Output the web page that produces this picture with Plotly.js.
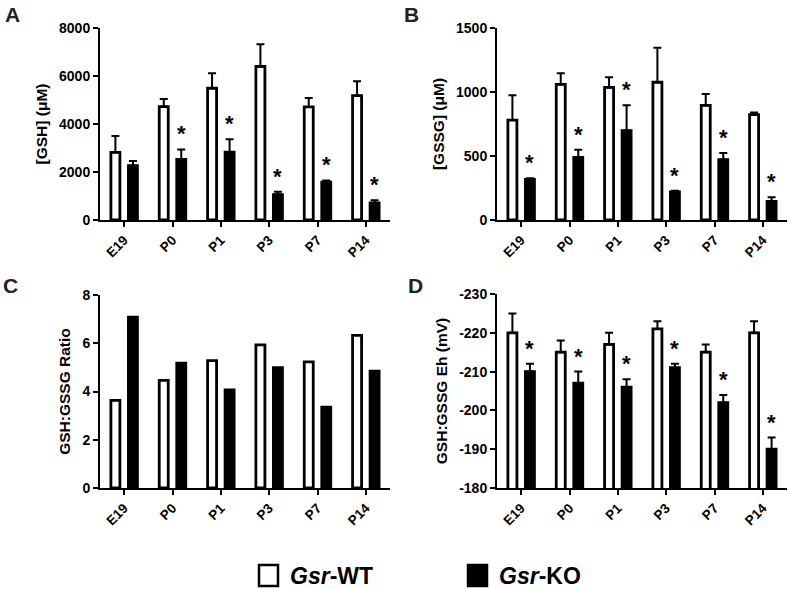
<!DOCTYPE html>
<html>
<head>
<meta charset="utf-8">
<script src="https://cdn.plot.ly/plotly-3.0.1.min.js"></script>
<style>html,body{margin:0;padding:0;background:#fff;}#chart{width:789px;height:589px;}</style>
</head>
<body>
<div id="chart"></div>
<script>
// ---- data ----
const categories = ['E19', 'P0', 'P1', 'P3', 'P7', 'P14'];

const gshWT = [2820, 4720, 5490, 6400, 4710, 5180];
const gshWTerr = [680, 320, 620, 920, 370, 600];
const gshKO = [2260, 2530, 2830, 1060, 1580, 710];
const gshKOerr = [200, 410, 530, 120, 70, 110];
const gshStar = [false, true, true, true, true, true];

const gssgWT = [781, 1060, 1036, 1076, 896, 823];
const gssgWTerr = [193, 86, 79, 270, 88, 16];
const gssgKO = [318, 490, 698, 219, 471, 146];
const gssgKOerr = [8, 59, 198, 10, 52, 31];
const gssgStar = [true, true, true, true, true, true];

const ratioWT = [3.63, 4.46, 5.28, 5.93, 5.23, 6.33];
const ratioKO = [7.08, 5.17, 4.07, 4.99, 3.35, 4.84];

const ehWT = [-220, -215, -217, -221, -215, -220];
const ehWTerr = [5, 3, 3, 2, 2, 3];
const ehKO = [-210, -207, -206, -211, -202, -190];
const ehKOerr = [2, 3, 2, 1, 2, 3];
const ehStar = [true, true, true, true, true, true];

const ehTickVals = [-230, -220, -210, -200, -190, -180];
const ehTickText = ['-230', '-220', '-210', '-200', '-190', '-180'];

// ---- helpers ----
const W = 789, H = 589;
const px = v => v / W;
const py = v => 1 - v / H;
const FONT = 'Arial, "Liberation Sans", Helvetica, sans-serif';

function errObj(plus, minus) {
  return {type: 'data', symmetric: false, array: plus || [], arrayminus: minus || [],
          color: '#000', thickness: 2, width: 4, visible: true};
}
function barTrace(name, fill, y, err, ax, reversed) {
  const t = {type: 'bar', name: name, x: categories, y: y, xaxis: 'x' + ax, yaxis: 'y' + ax,
    marker: {color: fill, line: {color: '#000', width: 2.8}}, showlegend: false, hoverinfo: 'x+y'};
  if (err) t.error_y = reversed ? errObj([], err) : errObj(err, []);
  return t;
}

const data = [
  barTrace('Gsr-WT', '#fff', gshWT, gshWTerr, ''), barTrace('Gsr-KO', '#000', gshKO, gshKOerr, ''),
  barTrace('Gsr-WT', '#fff', gssgWT, gssgWTerr, '2'), barTrace('Gsr-KO', '#000', gssgKO, gssgKOerr, '2'),
  barTrace('Gsr-WT', '#fff', ratioWT, null, '3'), barTrace('Gsr-KO', '#000', ratioKO, null, '3'),
  barTrace('Gsr-WT', '#fff', ehWT, ehWTerr, '4', true), barTrace('Gsr-KO', '#000', ehKO, ehKOerr, '4', true)
];

// ---- axes ----
const xTickFont = {family: FONT, size: 13.5, weight: 'bold', color: '#000'};
const yTickFont = {family: FONT, size: 14, weight: 'bold', color: '#000'};
const titleFont = {family: FONT, size: 15.5, weight: 'bold', color: '#000'};
function xAx(d0, d1, anchor) {
  return {domain: [px(d0), px(d1)], anchor: anchor, type: 'category', range: [-0.5, 5.5],
    showline: true, linecolor: '#000', linewidth: 2, ticks: 'outside', ticklen: 5, tickwidth: 2,
    tickcolor: '#000', tickangle: -45, tickfont: xTickFont, showgrid: false, zeroline: false, fixedrange: true};
}
function yAx(top, bottom, anchor, title, range, dtick) {
  return {domain: [py(bottom), py(top)], anchor: anchor, range: range, dtick: dtick,
    showline: true, linecolor: '#000', linewidth: 2, ticks: 'outside', ticklen: 5, tickwidth: 2,
    tickcolor: '#000', tickfont: yTickFont, showgrid: false, zeroline: false, fixedrange: true,
    title: {text: title, font: titleFont, standoff: 8}};
}

const annotations = [];
function panelLabel(t, x, y) {
  annotations.push({text: '<b>' + t + '</b>', xref: 'paper', yref: 'paper', x: px(x), y: py(y),
    xanchor: 'center', yanchor: 'middle', showarrow: false, font: {family: FONT, size: 21, color: '#222'}});
}
panelLabel('A', 12, 14); panelLabel('B', 412, 14); panelLabel('C', 10, 285); panelLabel('D', 415, 286);

function stars(flags, vals, errs, ax, reversed) {
  flags.forEach((f, i) => {
    if (!f) return;
    const top = reversed ? vals[i] - errs[i] : vals[i] + errs[i];
    annotations.push({text: '<b>*</b>', xref: 'x' + ax, yref: 'y' + ax, x: categories[i], y: top,
      xshift: 8.75, yshift: 1, xanchor: 'center', yanchor: 'bottom', showarrow: false,
      font: {family: FONT, size: 22, color: '#000'}});
  });
}
stars(gshStar, gshKO, gshKOerr, '');
stars(gssgStar, gssgKO, gssgKOerr, '2');
stars(ehStar, ehKO, ehKOerr, '4', true);

// legend drawn as shapes + text
const shapes = [
  {type: 'rect', xref: 'paper', yref: 'paper', x0: px(259), x1: px(278), y0: py(586), y1: py(565),
   fillcolor: '#fff', line: {color: '#000', width: 2.5}},
  {type: 'rect', xref: 'paper', yref: 'paper', x0: px(468), x1: px(487), y0: py(586), y1: py(565),
   fillcolor: '#000', line: {color: '#000', width: 2.5}}
];
annotations.push({text: '<b><i>Gsr</i>-WT</b>', xref: 'paper', yref: 'paper', x: px(288), y: py(576),
  xanchor: 'left', yanchor: 'middle', showarrow: false, font: {family: FONT, size: 23, color: '#000'}});
annotations.push({text: '<b><i>Gsr</i>-KO</b>', xref: 'paper', yref: 'paper', x: px(497), y: py(576),
  xanchor: 'left', yanchor: 'middle', showarrow: false, font: {family: FONT, size: 23, color: '#000'}});

const layout = {
  width: W, height: H, margin: {l: 0, r: 0, t: 0, b: 0},
  paper_bgcolor: '#fff', plot_bgcolor: '#fff',
  barmode: 'group', bargap: 0.275, bargroupgap: 0.486,
  showlegend: false, font: {family: FONT, color: '#000'},
  xaxis: xAx(100, 390, 'y'),
  yaxis: yAx(28, 220, 'x', '[GSH] (μM)', [0, 8000], 2000),
  xaxis2: xAx(497, 787, 'y2'),
  yaxis2: yAx(28, 220, 'x2', '[GSSG] (μM)', [0, 1500], 500),
  xaxis3: xAx(100, 390, 'y3'),
  yaxis3: yAx(295, 488, 'x3', 'GSH:GSSG Ratio', [0, 8], 2),
  xaxis4: xAx(497, 787, 'y4'),
  yaxis4: Object.assign(yAx(294, 488, 'x4', 'GSH:GSSG Eh (mV)', [-180, -230], 10),
    {tickmode: 'array', tickvals: ehTickVals, ticktext: ehTickText}),
  annotations: annotations, shapes: shapes
};

Plotly.newPlot('chart', data, layout, {displayModeBar: false, staticPlot: true});
</script>
</body>
</html>
